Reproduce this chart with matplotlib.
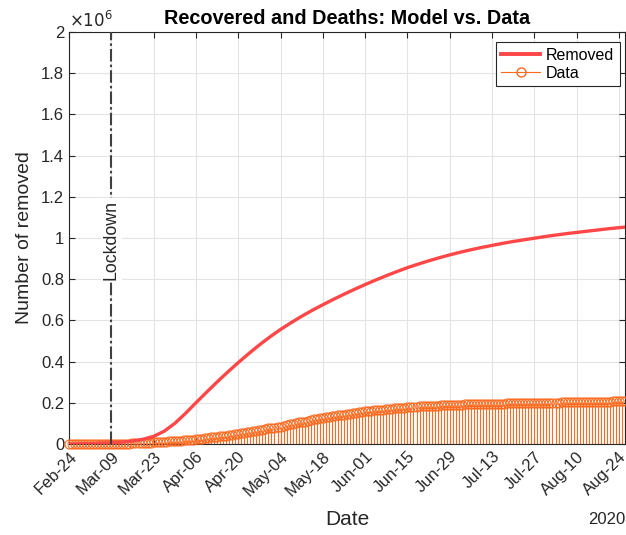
import numpy as np
import pandas as pd
import matplotlib
matplotlib.use("Agg")
import matplotlib.pyplot as plt
import matplotlib.dates as mdates
from matplotlib.ticker import FuncFormatter, MultipleLocator
from matplotlib.legend_handler import HandlerLine2D
from matplotlib.lines import Line2D

plt.rcParams["font.family"] = ["Liberation Sans", "DejaVu Sans"]

# daily cumulative data (people), Feb-24 .. Aug-26 2020
feb = [1, 1, 3, 45, 46, 50]
mar = [83, 149, 160, 276, 414, 523, 589, 622, 724, 724,
       1045, 1045, 1439, 1966, 2335, 2749, 2941, 4025, 4440, 5129,
       6072, 7024, 7432, 8326, 9362, 10361, 10950, 12384, 13030, 14620, 15729]
apr = [16847, 18278, 19758, 20996, 21815, 22837, 24392, 26491, 28470, 30455,
       32534, 34211, 35435, 37130, 38092, 40164, 42727, 44927, 47055, 48877,
       51600, 54543, 57576, 60498, 63120, 64928, 66624, 68941, 71252, 75945]
may = [78249, 79914, 81654, 82879, 85231, 93245, 96276, 99023, 103031, 105186,
       106587, 109039, 112541, 115288, 120205, 122810, 125176, 127326, 129401, 132282,
       134560, 136720, 138840, 140479, 141981, 144658, 147101, 150604, 152844, 155633, 157507]
jun = [158355, 160092, 160938, 163781, 164781, 165837, 166584, 168646, 169939, 170938,
       173085, 174865, 176370, 177010, 178526, 179455, 180544, 181907, 182453, 182893,
       183426, 184585, 185292, 186111, 186725, 187615, 188584, 188891, 189196, 190248]
jul = [190717, 191083, 191467, 191944, 192108, 192815, 193217, 193640, 194073, 194579,
       194928, 195106, 195441, 195661, 196016, 196246, 196483, 196806, 196949, 197162,
       197431, 197628, 197842, 198192, 198446, 198593, 198756, 198984, 199031, 199796, 200229]
aug = [200460, 200589, 200766, 201323, 201642, 201947, 202248, 202697, 202923, 203326,
       203640, 203968, 204142, 204384, 204506, 204726, 204960, 205203, 205470, 205773,
       205959, 206329, 206554, 206902, 207330, 207653]
data = np.array(feb + mar + apr + may + jun + jul + aug, dtype=float)
data_dates = pd.date_range("2020-02-24", periods=len(data), freq="D")

model_m = [0.000, 0.001, 0.002, 0.004, 0.006, 0.009, 0.014, 0.023, 0.037, 0.062,
           0.100, 0.148, 0.200, 0.251, 0.301, 0.349, 0.395, 0.439, 0.481, 0.520,
           0.556, 0.589, 0.620, 0.649, 0.676, 0.702, 0.727, 0.751, 0.774, 0.796,
           0.817, 0.837, 0.856, 0.873, 0.889, 0.904, 0.918, 0.931, 0.943, 0.954,
           0.964, 0.974, 0.983, 0.991, 0.999, 1.007, 1.014, 1.021, 1.027, 1.033,
           1.039, 1.045, 1.050, 1.053]
model_dates = list(pd.date_range("2020-02-24", "2020-08-24", freq="84h")) + [pd.Timestamp("2020-08-26")]
model = np.array(model_m) * 1e6

lockdown = pd.Timestamp("2020-03-09")
tick_dates = pd.date_range("2020-02-24", "2020-08-24", freq="14D")

red = "#FF4747"
orange = "#FF6A1F"


class StemHandler(HandlerLine2D):
    # marker at the right end, like a MATLAB stem legend
    def get_xdata(self, legend, xdescent, ydescent, width, height, fontsize):
        xdata, _ = super().get_xdata(legend, xdescent, ydescent, width, height, fontsize)
        return xdata, [xdata[-1]]


fig = plt.figure(figsize=(6.26, 5.35), dpi=100)
ax = fig.add_axes([69 / 626, 91 / 535, 556 / 626, 412 / 535])

ax.grid(True, color="#E3E3E3", lw=0.8)
ax.set_axisbelow(True)

ax.vlines(data_dates, 0, data, color=orange, lw=0.8, zorder=2)
ax.plot(data_dates, data, "o", mfc="none", mec=orange, ms=6.5, mew=0.8,
        clip_on=False, zorder=3)
ax.plot(model_dates, model, color=red, lw=2.4, zorder=4)

ax.plot([lockdown, lockdown], [0, 2e6], color="#404040", lw=1.5,
        dashes=(6, 1.5, 1.2, 1.5), zorder=5)
ax.text(lockdown, 0.99e6, "Lockdown", rotation=90, ha="center", va="center",
        fontsize=12.8, color="#262626", zorder=6,
        bbox=dict(facecolor="white", edgecolor="none", pad=1.5))

ax.set_xlim(pd.Timestamp("2020-02-24"), pd.Timestamp("2020-08-26"))
ax.set_ylim(0, 2e6)
ax.yaxis.set_major_locator(MultipleLocator(0.2e6))
ax.yaxis.set_major_formatter(FuncFormatter(lambda v, p: f"{v / 1e6:g}"))
ax.set_xticks(tick_dates)
ax.xaxis.set_major_formatter(mdates.DateFormatter("%b-%d"))
ax.tick_params(axis="both", direction="in", length=4, width=0.8,
               top=True, right=True, labelsize=12, colors="#262626")
plt.setp(ax.get_xticklabels(), rotation=45, ha="right", rotation_mode="anchor")
for s in ax.spines.values():
    s.set_color("#262626")
    s.set_linewidth(0.8)

ax.set_title("Recovered and Deaths: Model vs. Data", fontsize=14.3,
             fontweight="bold", pad=6)
ax.set_xlabel("Date", fontsize=15, color="#262626", labelpad=8)
ax.set_ylabel("Number of removed", fontsize=14, color="#262626", labelpad=6)
ax.text(0.0, 1.005, r"$\times10^{6}$", transform=ax.transAxes, fontsize=12,
        ha="left", va="bottom", color="#262626")
fig.text(607 / 626, 1 - 519 / 535, "2020", fontsize=12, ha="center",
         va="center", color="#262626")

h_model = Line2D([], [], color=red, lw=2.8)
h_data = Line2D([], [], color=orange, lw=0.8, marker="o", mfc="none",
                mec=orange, ms=6.5)
leg = ax.legend([h_model, h_data], ["Removed", "Data"], loc="upper right",
                bbox_to_anchor=(1 - 5 / 556, 1 - 10 / 412),
                fontsize=11.5, fancybox=False, framealpha=1, edgecolor="#262626",
                handlelength=2.4, handletextpad=0.4, borderpad=0.35,
                labelspacing=0.2, borderaxespad=0, numpoints=1,
                handler_map={h_data: StemHandler()})
leg.get_frame().set_linewidth(0.8)

fig.savefig("out.png", dpi=100)
